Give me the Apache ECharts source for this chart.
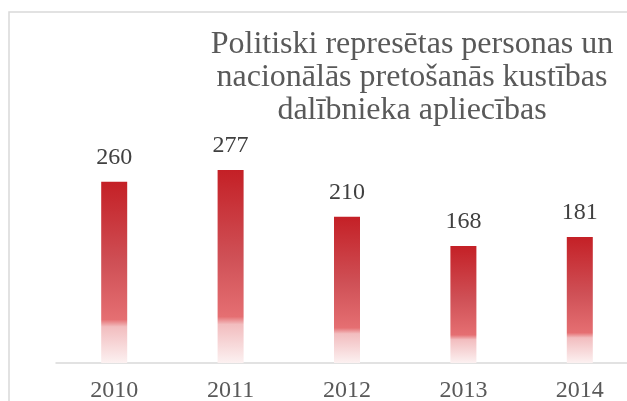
<!DOCTYPE html>
<html>
<head>
    <meta charset="utf-8">
    <script src="https://cdn.jsdelivr.net/npm/echarts@6/dist/echarts.min.js"></script>
    <style>
        body { margin: 0; background: #fff; }
    </style>
</head>
<body>
    <div id="main" style="width: 627px;height:401px;"></div>
    <script type="text/javascript">
        // dati
        var years = ['2010', '2011', '2012', '2013', '2014'];
        var counts = [260, 277, 210, 168, 181];
        var chartTitle = 'Politiski represētas personas un\nnacionālās pretošanās kustības\ndalībnieka apliecības';

        var myChart = echarts.init(document.getElementById('main'));

        var barColor = new echarts.graphic.LinearGradient(0, 0, 0, 1, [
            { offset: 0, color: '#C42026' },
            { offset: 0.45, color: '#CF5056' },
            { offset: 0.76, color: '#E56F72' },
            { offset: 0.80, color: '#F2BDBF' },
            { offset: 1, color: '#FCF1F1' }
        ]);

        myChart.setOption({
            animation: false,
            title: {
                text: chartTitle,
                left: 407,
                top: 23,
                textAlign: 'center',
                textStyle: {
                    fontFamily: 'Liberation Serif',
                    fontWeight: 'normal',
                    fontSize: 32,
                    lineHeight: 33,
                    color: '#595959'
                }
            },
            graphic: [{
                type: 'rect',
                shape: { x: 9, y: 12, width: 700, height: 500 },
                style: { fill: 'none', stroke: '#D9D9D9', lineWidth: 1.5 },
                silent: true,
                z: -1
            }],
            grid: {
                left: 56, top: 154, width: 582, height: 209,
                containLabel: false,
                outerBoundsMode: 'none'
            },
            xAxis: {
                type: 'category',
                data: years,
                axisLine: { lineStyle: { color: '#D9D9D9', width: 1.5 } },
                axisTick: { show: false },
                axisLabel: {
                    margin: 16,
                    fontFamily: 'Liberation Serif',
                    fontSize: 24,
                    color: '#595959'
                }
            },
            yAxis: {
                type: 'value',
                min: 0,
                max: 300,
                show: false,
                splitLine: { show: false }
            },
            series: [{
                name: 'apliecības',
                type: 'bar',
                data: counts,
                barWidth: 26,
                itemStyle: { color: barColor },
                label: {
                    show: true,
                    position: 'top',
                    distance: 12,
                    fontFamily: 'Liberation Serif',
                    fontSize: 24,
                    color: '#404040'
                }
            }]
        });
    </script>
</body>
</html>
